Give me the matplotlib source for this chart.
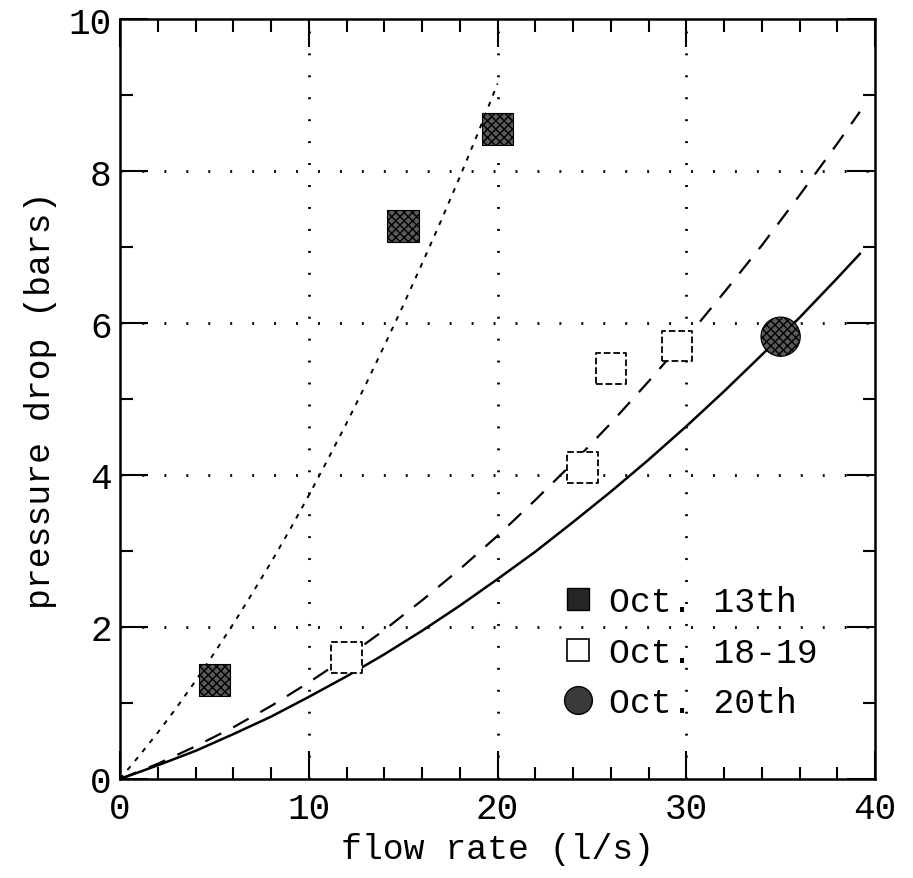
import matplotlib
matplotlib.use("Agg")
import matplotlib.pyplot as plt
from matplotlib.lines import Line2D
from matplotlib.ticker import MultipleLocator

# --- data ---
oct13_x = [5, 15, 20]
oct13_y = [1.3, 7.28, 8.55]
oct1819_x = [12, 24.5, 26, 29.5]
oct1819_y = [1.6, 4.1, 5.4, 5.7]
oct20_x = [35]
oct20_y = [5.82]

fit13_x = [0, 1, 2, 3, 4, 5, 6, 7, 8, 9, 10, 11, 12, 13, 14, 15, 16, 17, 18, 19, 20]
fit13_y = [0, 0.30, 0.61, 0.94, 1.29, 1.66, 2.04, 2.44, 2.85, 3.28, 3.73, 4.20,
           4.68, 5.18, 5.70, 6.23, 6.78, 7.34, 7.92, 8.52, 9.15]
fit1819_x = [0, 2, 4, 6, 8, 10, 12, 14, 16, 18, 20, 22, 24, 26, 28, 30, 32, 34,
             36, 38, 39.2]
fit1819_y = [0, 0.20, 0.43, 0.68, 0.96, 1.27, 1.60, 1.96, 2.35, 2.76, 3.20, 3.67,
             4.16, 4.68, 5.23, 5.80, 6.40, 7.02, 7.68, 8.36, 8.78]
fit20_x = [0, 2, 4, 6, 8, 10, 12, 14, 16, 18, 20, 22, 24, 26, 28, 30, 32, 34,
           36, 38, 39.2]
fit20_y = [0, 0.18, 0.37, 0.59, 0.82, 1.08, 1.35, 1.64, 1.95, 2.28, 2.63, 2.99,
           3.38, 3.78, 4.20, 4.64, 5.10, 5.58, 6.07, 6.59, 6.91]

legend_labels = ["Oct. 13th", "Oct. 18-19", "Oct. 20th"]
xticks = [0, 10, 20, 30, 40]
yticks = [0, 2, 4, 6, 8, 10]

plt.rcParams['font.family'] = ['Liberation Mono', 'DejaVu Sans Mono']

fig = plt.figure(figsize=(9.13, 8.79), dpi=100)
ax = fig.add_axes([120/913, 1-780/879, 755/913, 760/879])

# grid
for v in [10, 20, 30]:
    ax.axvline(v, color='black', lw=2, dashes=(0.7, 7.2), zorder=1)
for v in [2, 4, 6, 8]:
    ax.axhline(v, color='black', lw=2, dashes=(0.7, 7.2), zorder=1)

# fitted curves
ax.plot(fit13_x, fit13_y, color='black', lw=1.4, dashes=(2.5, 3.5), zorder=2)
ax.plot(fit1819_x, fit1819_y, color='black', lw=1.6, dashes=(8, 6), zorder=2)
ax.plot(fit20_x, fit20_y, color='black', lw=1.8, zorder=2)

# data points
ax.scatter(oct13_x, oct13_y, marker='s', s=520, facecolor='#5a5a5a', edgecolor='black',
           hatch='xxxx', linewidths=0.8, zorder=3)
ax.scatter(oct1819_x, oct1819_y, marker='s', s=480, facecolor='white', edgecolor='black',
           linewidths=1.3, linestyle='--', zorder=3)
ax.scatter(oct20_x, oct20_y, marker='o', s=800, facecolor='#5a5a5a', edgecolor='black',
           hatch='xxxx', linewidths=0.8, zorder=3)

ax.set_xlim(0, 40)
ax.set_ylim(0, 10)
ax.set_xticks(xticks)
ax.set_yticks(yticks)
ax.xaxis.set_minor_locator(MultipleLocator(2))
ax.yaxis.set_minor_locator(MultipleLocator(1))
ax.tick_params(which='both', direction='in', top=True, right=True, width=1.5, colors='black')
ax.tick_params(which='major', length=20, labelsize=26)
ax.tick_params(axis='x', which='major', pad=9)
ax.tick_params(axis='y', which='major', pad=6)
ax.tick_params(which='minor', length=9)
for sp in ax.spines.values():
    sp.set_linewidth(1.8)

ax.set_xlabel("flow rate (l/s)", fontsize=25, labelpad=4)
ax.set_ylabel("pressure drop (bars)", fontsize=25, labelpad=8)

handles = [
    Line2D([], [], marker='s', ls='none', markersize=16, markerfacecolor='#262626',
           markeredgecolor='black'),
    Line2D([], [], marker='s', ls='none', markersize=16, markerfacecolor='white',
           markeredgecolor='black', markeredgewidth=1.2),
    Line2D([], [], marker='o', ls='none', markersize=20, markerfacecolor='#3a3a3a',
           markeredgecolor='black'),
]
leg = ax.legend(handles, legend_labels, loc='upper left', bbox_to_anchor=(0.56, 0.273),
                frameon=False, fontsize=25, handletextpad=0.3, labelspacing=0.5,
                handlelength=1.2, borderaxespad=0)

fig.savefig("out.png", dpi=100)
